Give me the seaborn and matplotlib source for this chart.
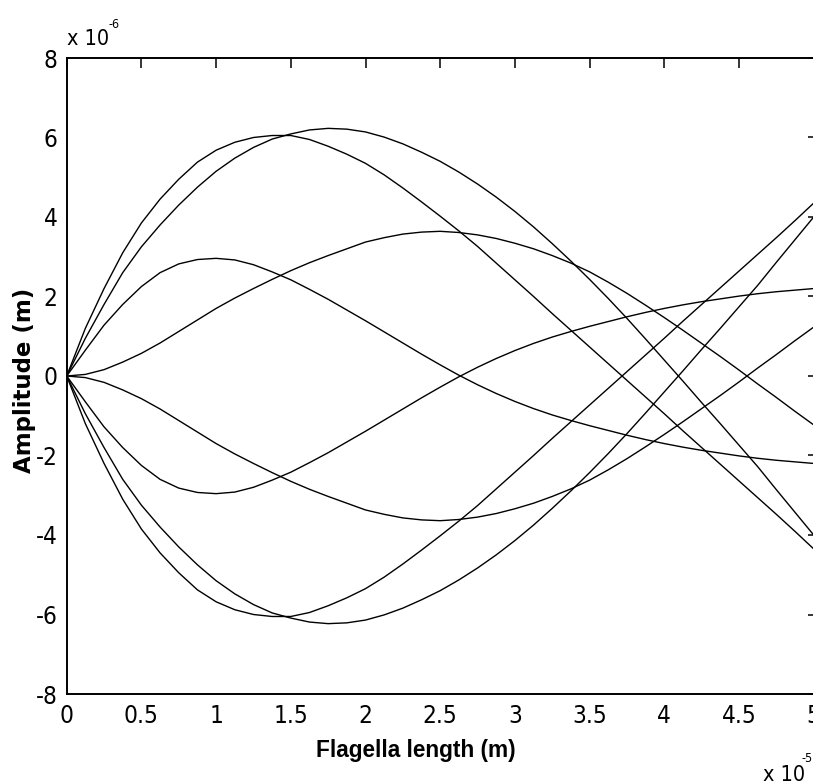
import matplotlib
matplotlib.use("Agg")
import matplotlib.pyplot as plt
from matplotlib import font_manager
import pandas as pd
import seaborn as sns

# Flagella length samples (units of 1e-5 m)
length = [0, 0.125, 0.25, 0.375, 0.5, 0.625, 0.75, 0.875, 1.0, 1.125, 1.25, 1.375,
          1.5, 1.625, 1.75, 1.875, 2.0, 2.125, 2.25, 2.375, 2.5, 2.625, 2.75, 2.875,
          3.0, 3.125, 3.25, 3.375, 3.5, 3.625, 3.75, 3.875, 4.0, 4.125, 4.25, 4.375,
          4.5, 4.625, 4.75, 4.875, 5.0]

# Amplitude snapshots of the beating flagellum (units of 1e-6 m)
wave_1 = [0, 0.95, 1.8, 2.6, 3.25, 3.8, 4.3, 4.75, 5.15, 5.48, 5.75, 5.96,
          6.09, 6.19, 6.23, 6.21, 6.14, 6.01, 5.84, 5.63, 5.4, 5.13, 4.83, 4.5,
          4.14, 3.75, 3.33, 2.89, 2.43, 1.95, 1.45, 0.93, 0.4, -0.13, -0.67, -1.2,
          -1.74, -2.28, -2.86, -3.43, -4.0]
wave_2 = [0, 1.2, 2.2, 3.1, 3.85, 4.45, 4.95, 5.38, 5.68, 5.88, 6.0, 6.05,
          6.05, 5.95, 5.78, 5.58, 5.35, 5.06, 4.73, 4.38, 4.02, 3.65, 3.26, 2.84,
          2.42, 2.0, 1.57, 1.15, 0.73, 0.31, -0.11, -0.53, -0.95, -1.38, -1.8, -2.22,
          -2.64, -3.06, -3.48, -3.91, -4.35]
wave_3 = [0, 0.04, 0.16, 0.35, 0.57, 0.83, 1.12, 1.41, 1.7, 1.96, 2.2, 2.43,
          2.65, 2.85, 3.03, 3.2, 3.37, 3.48, 3.57, 3.62, 3.64, 3.61, 3.55, 3.46,
          3.34, 3.2, 3.03, 2.84, 2.62, 2.36, 2.08, 1.78, 1.47, 1.15, 0.82, 0.49,
          0.15, -0.2, -0.54, -0.89, -1.23]
wave_4 = [0, 0.65, 1.28, 1.8, 2.25, 2.6, 2.82, 2.93, 2.96, 2.92, 2.8, 2.62,
          2.42, 2.18, 1.93, 1.66, 1.39, 1.11, 0.83, 0.55, 0.28, 0.02, -0.22, -0.44,
          -0.64, -0.82, -0.98, -1.12, -1.25, -1.37, -1.49, -1.6, -1.7, -1.79, -1.87, -1.94,
          -2.01, -2.07, -2.12, -2.16, -2.2]
wave_5 = [0, -0.95, -1.8, -2.6, -3.25, -3.8, -4.3, -4.75, -5.15, -5.48, -5.75, -5.96,
          -6.09, -6.19, -6.23, -6.21, -6.14, -6.01, -5.84, -5.63, -5.4, -5.13, -4.83, -4.5,
          -4.14, -3.75, -3.33, -2.89, -2.43, -1.95, -1.45, -0.93, -0.4, 0.13, 0.67, 1.2,
          1.74, 2.28, 2.86, 3.43, 4.0]
wave_6 = [0, -1.2, -2.2, -3.1, -3.85, -4.45, -4.95, -5.38, -5.68, -5.88, -6.0, -6.05,
          -6.05, -5.95, -5.78, -5.58, -5.35, -5.06, -4.73, -4.38, -4.02, -3.65, -3.26, -2.84,
          -2.42, -2.0, -1.57, -1.15, -0.73, -0.31, 0.11, 0.53, 0.95, 1.38, 1.8, 2.22,
          2.64, 3.06, 3.48, 3.91, 4.35]
wave_7 = [0, -0.04, -0.16, -0.35, -0.57, -0.83, -1.12, -1.41, -1.7, -1.96, -2.2, -2.43,
          -2.65, -2.85, -3.03, -3.2, -3.37, -3.48, -3.57, -3.62, -3.64, -3.61, -3.55, -3.46,
          -3.34, -3.2, -3.03, -2.84, -2.62, -2.36, -2.08, -1.78, -1.47, -1.15, -0.82, -0.49,
          -0.15, 0.2, 0.54, 0.89, 1.23]
wave_8 = [0, -0.65, -1.28, -1.8, -2.25, -2.6, -2.82, -2.93, -2.96, -2.92, -2.8, -2.62,
          -2.42, -2.18, -1.93, -1.66, -1.39, -1.11, -0.83, -0.55, -0.28, -0.02, 0.22, 0.44,
          0.64, 0.82, 0.98, 1.12, 1.25, 1.37, 1.49, 1.6, 1.7, 1.79, 1.87, 1.94,
          2.01, 2.07, 2.12, 2.16, 2.2]

x_ticks = [0, 0.5, 1, 1.5, 2, 2.5, 3, 3.5, 4, 4.5, 5]
x_tick_labels = ["0", "0.5", "1", "1.5", "2", "2.5", "3", "3.5", "4", "4.5", "5"]
y_ticks = [-8, -6, -4, -2, 0, 2, 4, 6, 8]
y_tick_labels = ["-8", "-6", "-4", "-2", "0", "2", "4", "6", "8"]

waves = [wave_1, wave_2, wave_3, wave_4, wave_5, wave_6, wave_7, wave_8]
frames = []
for i, w in enumerate(waves):
    frames.append(pd.DataFrame({"length": length, "amplitude": w, "snapshot": i}))
df = pd.concat(frames, ignore_index=True)

sns.set_style("white")

names = {f.name for f in font_manager.fontManager.ttflist}
def narrow_font(size, weight="normal"):
    if "Liberation Sans Narrow" in names:
        return font_manager.FontProperties(family="Liberation Sans Narrow", size=size, weight=weight)
    return font_manager.FontProperties(family="DejaVu Sans", stretch="condensed", size=size, weight=weight)

W, H = 813, 782
fig = plt.figure(figsize=(W / 100, H / 100), dpi=100)
fig.patch.set_facecolor("white")
left, right, top, bottom = 66.7, 813.7, 58, 694
ax = fig.add_axes([left / W, 1 - bottom / H, (right - left) / W, (bottom - top) / H])
ax.set_facecolor("white")

sns.lineplot(data=df, x="length", y="amplitude", units="snapshot", estimator=None,
             sort=False, color="black", linewidth=1.0, ax=ax, legend=False)

ax.set_xlim(0, 5)
ax.set_ylim(-8, 8)
ax.set_xticks(x_ticks)
ax.set_xticklabels(x_tick_labels)
ax.set_yticks(y_ticks)
ax.set_yticklabels(y_tick_labels)

for s in ax.spines.values():
    s.set_visible(True)
    s.set_linewidth(1.4)
    s.set_color("black")

ax.tick_params(axis="both", which="both", direction="in", top=True, right=True,
               color="black", width=1.1)
ax.tick_params(axis="x", length=7.5, pad=7.5)
ax.tick_params(axis="y", length=4.5, pad=6.5)

tick_fp = narrow_font(17.5)
for lab in ax.get_xticklabels() + ax.get_yticklabels():
    lab.set_fontproperties(tick_fp)
    lab.set_color("black")

ax.set_xlabel("Flagella length (m)", fontproperties=font_manager.FontProperties(
    family="Liberation Sans", weight="bold", size=16.3), color="black")
ax.xaxis.set_label_coords((415.5 - left) / (right - left), -(739 - bottom) / (bottom - top))
ax.set_ylabel("Amplitude (m)", fontproperties=font_manager.FontProperties(
    family="DejaVu Sans", weight="bold", size=16.5), color="black")
ax.yaxis.set_label_coords((36 - left) / (right - left), (bottom - 380) / (bottom - top))

# Scale multipliers for both axes
mult_y = fig.text(67 / W, 1 - 45 / H, "x 10", fontproperties=narrow_font(15.5),
                  color="black", ha="left", va="baseline")
ax.annotate("-6", xy=(1.0, 1.0), xycoords=mult_y, xytext=(-0.5, 8), textcoords="offset points",
            ha="left", va="top", fontproperties=narrow_font(9), color="black",
            annotation_clip=False)
mult_x = fig.text(763 / W, 1 - 781 / H, "x 10", fontproperties=narrow_font(15.5),
                  color="black", ha="left", va="baseline")
ax.annotate("-5", xy=(1.0, 1.0), xycoords=mult_x, xytext=(-2.5, 9), textcoords="offset points",
            ha="left", va="top", fontproperties=narrow_font(9), color="black",
            annotation_clip=False)

fig.savefig("out.png", dpi=100, facecolor="white")
